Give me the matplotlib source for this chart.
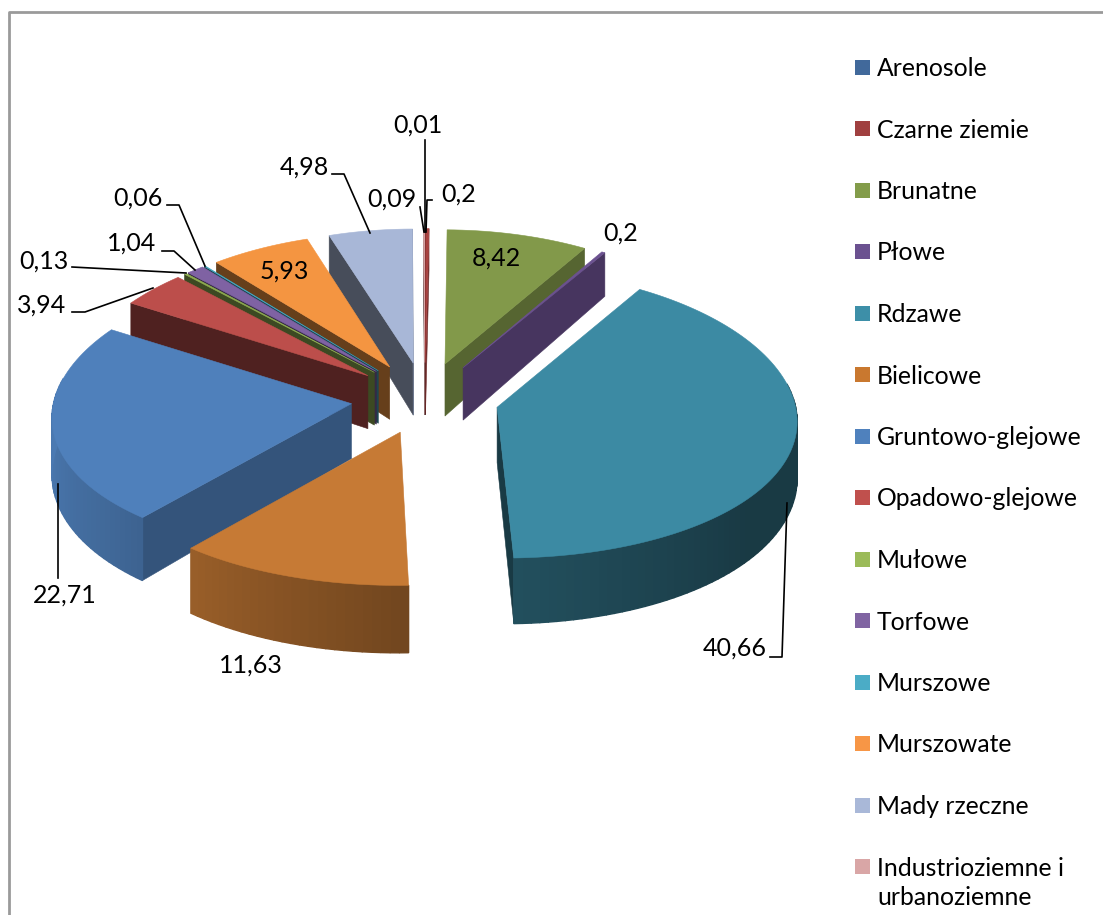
#!/usr/bin/python3

#exploded 3d pie of soil types, walls are worked out from the shares

import numpy as np
import matplotlib
matplotlib.use('Agg')
import matplotlib.pyplot as plt
from matplotlib.patches import Rectangle

names = ['Arenosole', 'Czarne ziemie', 'Brunatne', 'Płowe', 'Rdzawe', 'Bielicowe',
         'Gruntowo-glejowe', 'Opadowo-glejowe', 'Mułowe', 'Torfowe', 'Murszowe',
         'Murszowate', 'Mady rzeczne', 'Industrioziemne i\nurbanoziemne']
shares = [0.01, 0.2, 8.42, 0.2, 40.66, 11.63, 22.71, 3.94, 0.13, 1.04, 0.06, 5.93, 4.98, 0.09]
share_labels = ['0,01', '0,2', '8,42', '0,2', '40,66', '11,63', '22,71', '3,94', '0,13',
                '1,04', '0,06', '5,93', '4,98', '0,09']
colors = ['#41699b', '#a8413f', '#82994a', '#6b5190', '#3c8aa3', '#c67a35', '#4f80bb',
          '#bc4e4b', '#8fae50', '#7f62a3', '#45a5bf', '#f49541', '#a8b7d7', '#dba8a8']
legend_colors = ['#41699b', '#a04040', '#839c4a', '#6b5190', '#3d8fa8', '#c9782f', '#4f81bd',
                 '#c0504d', '#9bbb59', '#8064a2', '#4bacc6', '#f79646', '#a9b8d8', '#d9a6a6']

# label centres and leader lines, in pixels
label_pos = [(418, 125), (459, 194), (496, 258), (621, 233), (735, 648), (251, 665), (65, 595),
             (42, 305), (44, 261), (132, 243), (138, 198), (284, 271), (304, 167), (392, 199)]
leaders = [
    [(425, 140), (425, 232)],
    [(432, 200), (427, 200), (426, 232)],
    [(420, 207), (424, 232)],
    [(332, 174), (344, 174), (370, 233)],
    [(167, 205), (179, 205), (205, 266)],
    [(162, 251), (174, 251), (195, 270)],
    [(72, 267), (186, 273)],
    [(72, 312), (85, 312), (153, 288)],
    [(58, 484), (58, 578)],
    [(770, 657), (782, 657), (787, 503)],
]

CX, CY = 425, 398
R = 297
EXPLODE = 0.25
SQUASH = 0.482
PERSP_X = 0.08
PERSP_Y = 0.045
DEPTH = 54.6
DEPTH_PERSP = 0.19


def project(u, v, z=0.0):
    x = CX + R * u / (1.0 + PERSP_X * v)
    y = CY - R * SQUASH * v / (1.0 + PERSP_Y * v) + z * DEPTH * (1.0 - DEPTH_PERSP * v)
    return x, y


def shade(hex_color, f):
    return tuple(min(1.0, c * f) for c in matplotlib.colors.to_rgb(hex_color))


def arc_shade(deg):
    return np.interp(deg, [90, 130, 180, 230, 270], [0.42, 0.42, 0.58, 0.82, 0.95])


def wall(ax, p0, p1, color, lw=0.4):
    xa, ya = project(*p0)
    xb, yb = project(*p1)
    xc, yc = project(*p1, 1.0)
    xd, yd = project(*p0, 1.0)
    ax.fill([xa, xb, xc, xd], [ya, yb, yc, yd], color=color, lw=lw, zorder=2)


def draw_slice(ax, a0, a1, color):
    mid = np.radians((a0 + a1) / 2)
    ou, ov = EXPLODE * np.sin(mid), EXPLODE * np.cos(mid)
    n = max(2, int((a1 - a0) / 1.5))
    t = np.radians(np.linspace(a0, a1, n))
    us = ou + np.sin(t)
    vs = ov + np.cos(t)

    # radial walls, only those turned to the viewer
    for a, sign in ((a0, -90), (a1, 90)):
        normal = np.radians(a + sign)
        if np.cos(normal) > 0.01:
            continue
        ar = np.radians(a)
        f = 0.66 if np.sin(normal) > 0 else 0.42
        wall(ax, (ou, ov), (ou + np.sin(ar), ov + np.cos(ar)), shade(color, f))

    # outer wall in thin strips for the gradient
    for i in range(n - 1):
        deg = np.degrees((t[i] + t[i + 1]) / 2)
        if 80 < deg < 280:
            wall(ax, (us[i], vs[i]), (us[i + 1], vs[i + 1]), shade(color, arc_shade(deg)), lw=1.0)

    x, y = project(np.r_[ou, us], np.r_[ov, vs])
    ax.fill(x, y, color=color, lw=0.4, zorder=2)


def main():
    plt.rcParams['font.family'] = ['Lato', 'DejaVu Sans']
    fig = plt.figure(figsize=(11.03, 9.15), dpi=100)
    ax = fig.add_axes([0, 0, 1, 1])
    ax.set_xlim(0, 1103)
    ax.set_ylim(915, 0)
    ax.axis('off')

    # chart frame
    ax.plot([9, 9, 1103], [915, 12, 12], color='#9a9a9a', lw=2, zorder=1)

    edges = np.r_[0, np.cumsum(shares)] / np.sum(shares) * 360
    mids = (edges[:-1] + edges[1:]) / 2
    # far slices first
    for i in np.argsort(-np.cos(np.radians(mids))):
        draw_slice(ax, edges[i], edges[i + 1], colors[i])

    for line in leaders:
        xs, ys = zip(*line)
        ax.plot(xs, ys, color='black', lw=1.2, zorder=3)
    for (x, y), s in zip(label_pos, share_labels):
        ax.text(x, y, s, ha='center', va='center', fontsize=18, color='black', zorder=4)

    # legend
    for i, name in enumerate(names):
        y = 67 + i * 61.5
        ax.add_patch(Rectangle((855, y - 7.5), 15, 15, color=legend_colors[i], lw=0, zorder=3))
        ax.text(877, y - 10, name, ha='left', va='top', fontsize=17.8, color='black',
                linespacing=1.32, zorder=4)

    fig.savefig('out.png', dpi=100)


if __name__ == "__main__":
    main()
